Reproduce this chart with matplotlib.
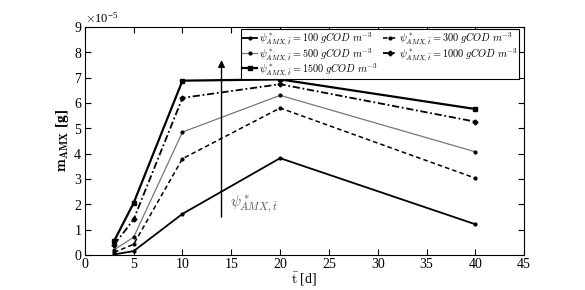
import matplotlib
matplotlib.use("Agg")
import matplotlib.pyplot as plt

# Datos
t = [3, 5, 10, 20, 40]
m_100 = [0.02e-5, 0.15e-5, 1.62e-5, 3.82e-5, 1.21e-5]
m_300 = [0.10e-5, 0.42e-5, 3.80e-5, 5.80e-5, 3.03e-5]
m_500 = [0.20e-5, 0.70e-5, 4.85e-5, 6.30e-5, 4.07e-5]
m_1000 = [0.40e-5, 1.40e-5, 6.20e-5, 6.74e-5, 5.26e-5]
m_1500 = [0.55e-5, 2.05e-5, 6.88e-5, 6.93e-5, 5.76e-5]
psi = [100, 300, 500, 1000, 1500]

plt.rcParams['font.family'] = ['Liberation Serif', 'DejaVu Serif']
plt.rcParams['mathtext.fontset'] = 'cm'
plt.rcParams['font.size'] = 10

fig = plt.figure(figsize=(5.85, 2.9), dpi=100)
ax = fig.add_axes([0.145, 0.121, 0.751, 0.786])

def etiqueta(p):
    return r'$\psi^*_{AMX,\bar{t}} = %d\ gCOD\ m^{-3}$' % p

l1, = ax.plot(t, m_100, '-', color='black', lw=1.3, marker='.', ms=4, label=etiqueta(psi[0]))
l2, = ax.plot(t, m_300, '--', color='black', lw=1.1, marker='.', ms=4, dashes=(3, 2), label=etiqueta(psi[1]))
l3, = ax.plot(t, m_500, '-', color='#777777', lw=0.9, marker='.', ms=4, mfc='black', mec='black', label=etiqueta(psi[2]))
l4, = ax.plot(t, m_1000, '-.', color='black', lw=1.3, marker='D', ms=2.5, dashes=(4, 1.5, 1, 1.5), label=etiqueta(psi[3]))
l5, = ax.plot(t, m_1500, '-', color='black', lw=1.6, marker='s', ms=3, label=etiqueta(psi[4]))

ax.set_xlim(0, 45)
ax.set_ylim(0, 9e-5)
ax.set_xticks(range(0, 46, 5))
ax.set_yticks([i * 1e-5 for i in range(10)])
ax.ticklabel_format(axis='y', style='sci', scilimits=(0, 0), useMathText=True)
ax.yaxis.get_offset_text().set_fontsize(9)
ax.tick_params(direction='in', top=True, right=True, length=4, labelsize=10, pad=2)

ax.set_xlabel(r'$\mathrm{\bar{t}}$ [d]', fontsize=10, labelpad=0)
ax.set_ylabel(r'$\mathbf{m}_{\mathbf{AMX}}$ [g]', fontsize=11, fontweight='bold', labelpad=2)

# Flecha de tendencia
ax.annotate('', xy=(14, 7.8e-5), xytext=(14, 1.38e-5),
            arrowprops=dict(arrowstyle='-|>', color='black', lw=1.0, mutation_scale=10))
ax.text(14.9, 2.0e-5, r'$\psi^*_{AMX,\bar{t}}$', color='#555555', fontsize=11, va='center')

leg = ax.legend(handles=[l1, l3, l5, l2, l4], ncol=2, loc='upper left',
                bbox_to_anchor=(0.355, 0.99), fontsize=7.4, frameon=True, fancybox=False,
                edgecolor='black', framealpha=1, borderpad=0.15, labelspacing=-0.15,
                handlelength=1.4, handletextpad=0.2, columnspacing=0.5, borderaxespad=0)
leg.get_frame().set_linewidth(0.8)

fig.savefig('out.png', dpi=100)
